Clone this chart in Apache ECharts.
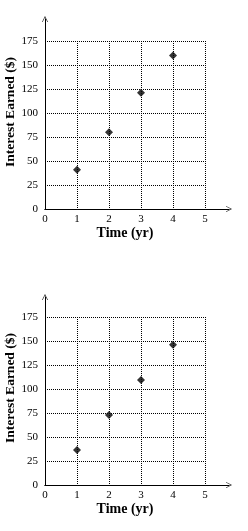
<!DOCTYPE html>
<html>
<head>
<meta charset="utf-8">
<script src="https://cdn.jsdelivr.net/npm/echarts@6/dist/echarts.min.js"></script>
<style>
html, body { margin: 0; padding: 0; background: #fff; }
#chart { width: 248px; height: 531px; }
</style>
</head>
<body>
<div id="chart"></div>
<script>
// data
var years = [1, 2, 3, 4];
var interestTop = [41, 80, 121, 160];
var interestBottom = [36.5, 73, 109.5, 146];
var xTicks = [0, 1, 2, 3, 4, 5];
var yTicks = [0, 25, 50, 75, 100, 125, 150, 175];

var dom = document.getElementById("chart");
var myChart = echarts.init(dom);

var serif = "'Liberation Serif', 'DejaVu Serif', serif";
var chevron = 'path://M0,10 L5,0 L10,10 L9,10 L5,2 L1,10 Z';

function pairs(xs, ys) {
    var out = [];
    for (var i = 0; i < xs.length; i++) out.push([xs[i], ys[i]]);
    return out;
}

function dataX(gi, withName) {
    return {
        gridIndex: gi, type: 'value',
        min: xTicks[0], max: xTicks[xTicks.length - 1], interval: 1,
        name: withName ? 'Time (yr)' : '',
        nameLocation: 'middle', nameGap: 17,
        nameTextStyle: { fontFamily: serif, fontWeight: 'bold', fontSize: 14, color: '#000' },
        axisLine: { show: true, lineStyle: { color: '#000', width: 1 } },
        axisTick: { show: false },
        axisLabel: { margin: 5, fontFamily: serif, fontSize: 11, color: '#000' },
        splitLine: { show: true, lineStyle: { color: '#000', width: 1, type: [1, 1] } }
    };
}
function dataY(gi) {
    return {
        gridIndex: gi, type: 'value',
        min: yTicks[0], max: yTicks[yTicks.length - 1], interval: 25,
        name: 'Interest Earned ($)',
        nameLocation: 'middle', nameGap: 27, nameMoveOverlap: false,
        nameTextStyle: { fontFamily: serif, fontWeight: 'bold', fontSize: 13.5, color: '#000', padding: [0, 0, 0, 26] },
        axisLine: { show: true, lineStyle: { color: '#000', width: 1 } },
        axisTick: { show: false },
        axisLabel: { margin: 7, fontFamily: serif, fontSize: 11, color: '#000' },
        splitLine: { show: true, lineStyle: { color: '#000', width: 1, type: [1, 1] } }
    };
}
function arrowX(gi) {
    return {
        gridIndex: gi, type: 'value', min: 0, max: 1, z: 5,
        axisLine: { show: true, symbol: ['none', chevron], symbolSize: [9, 6],
                    lineStyle: { color: '#000', width: 1 } },
        axisTick: { show: false }, axisLabel: { show: false }, splitLine: { show: false }
    };
}
function arrowY(gi) {
    return {
        gridIndex: gi, type: 'value', min: 0, max: 1, z: 5,
        axisLine: { show: true, symbol: ['none', chevron], symbolSize: [9, 6],
                    lineStyle: { color: '#000', width: 1 } },
        axisTick: { show: false }, axisLabel: { show: false }, splitLine: { show: false }
    };
}

var option = {
    backgroundColor: '#fff',
    animation: false,
    grid: [
        { left: 45, top: 41, width: 160, height: 168, outerBoundsMode: 'none', containLabel: false },
        { left: 45, top: 19, width: 184, height: 190, outerBoundsMode: 'none', containLabel: false },
        { left: 45, top: 317, width: 160, height: 168, outerBoundsMode: 'none', containLabel: false },
        { left: 45, top: 297, width: 184, height: 188, outerBoundsMode: 'none', containLabel: false }
    ],
    xAxis: [dataX(0, true), arrowX(1), dataX(2, true), arrowX(3)],
    yAxis: [dataY(0), arrowY(1), dataY(2), arrowY(3)],
    series: [
        {
            type: 'scatter', xAxisIndex: 0, yAxisIndex: 0, z: 10,
            symbol: 'diamond', symbolSize: 8,
            itemStyle: { color: '#000' },
            data: pairs(years, interestTop)
        },
        {
            type: 'scatter', xAxisIndex: 2, yAxisIndex: 2, z: 10,
            symbol: 'diamond', symbolSize: 8,
            itemStyle: { color: '#000' },
            data: pairs(years, interestBottom)
        }
    ]
};

if (option && typeof option === "object") {
    myChart.setOption(option, true);
}
</script>
</body>
</html>
